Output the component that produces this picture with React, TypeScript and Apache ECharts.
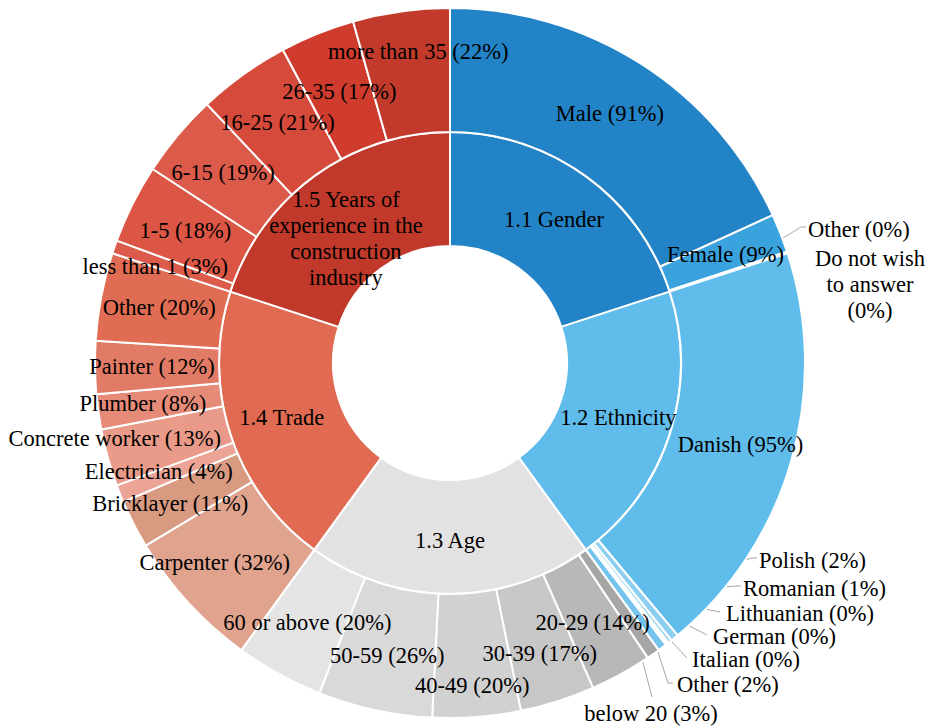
import React, { useEffect, useRef } from "react";
import * as echarts from "echarts";

// ---------- data ----------
const groups = [
  "1.1 Gender",
  "1.2 Ethnicity",
  "1.3 Age",
  "1.4 Trade",
  "1.5 Years of\nexperience in the\nconstruction\nindustry",
];

const genderNames = ["Male", "Female", "Other", "Do not wish to answer"];
const genderValues = [90.8, 8.8, 0.2, 0.2];

const ethnicityNames = ["Danish", "Polish", "Romanian", "Lithuanian", "German", "Italian", "Other"];
const ethnicityValues = [94.6, 1.8, 0.9, 0.3, 0.2, 0.2, 2.0];

const ageNames = ["below 20", "20-29", "30-39", "40-49", "50-59", "60 or above"];
const ageValues = [3, 14, 17, 20, 26, 20];

const tradeNames = ["Carpenter", "Bricklayer", "Electrician", "Concrete worker", "Plumber", "Painter", "Other"];
const tradeValues = [32, 11, 4, 13, 8, 12, 20];

const yearsNames = ["less than 1", "1-5", "6-15", "16-25", "26-35", "more than 35"];
const yearsValues = [3, 18, 19, 21, 17, 22];

// ---------- styles ----------
const groupColors = ["#2283c6", "#60bceb", "#e2e2e2", "#e06b52", "#c0392b"];
const genderColors = ["#2283c6", "#3aa2dc", "#4fb0e4", "#5ab6e8"];
const ethnicityColors = ["#60bceb", "#8dcff0", "#a6daf3", "#7cc6ee", "#9ad4f2", "#b4e0f5", "#74c3ed"];
const ageColors = ["#a6a6a6", "#b8b8b8", "#c7c7c7", "#d1d1d1", "#d9d9d9", "#e4e4e4"];
const tradeColors = ["#e0a48e", "#d89a80", "#eba496", "#e99a88", "#e68b78", "#e27b65", "#df6c53"];
const yearsColors = ["#dd5b4a", "#dc5646", "#db5a4a", "#d54a3b", "#cf3c2d", "#c23a2b"];

const CX = 450;
const CY = 363;
const R_HOLE = 117;
const R_MID = 231;
const R_OUT = 355;
const FONT = "Liberation Serif";
const FONT_SIZE = 22.5;

// inside-label nudges for the outer ring, keyed "group-index"
const insideNudge: Record<string, [number, number]> = {
  "1-0": [6, 0],
  "2-2": [0, 8],
  "2-3": [0, 27],
  "2-4": [0, 3],
  "3-0": [-17, 0],
  "3-1": [-16, 6],
  "3-2": [-16, 0],
  "3-3": [-50, -4],
  "3-4": [-14, 0],
  "3-5": [-2, 0],
  "4-0": [-15, 0],
  "4-4": [0, 3],
  "4-5": [9, -18],
};

// outside labels with leader lines, keyed "group-index"
type OutCfg = {
  x: number;
  y: number;
  align: "left" | "center" | "right";
  r: number;
  elbow: [number, number];
  end: [number, number];
  text?: string;
  lh?: number;
};
const outsideLabels: Record<string, OutCfg> = {
  "0-2": { x: 808, y: 229, align: "left", r: 293, elbow: [801, 227], end: [806, 227], lh: 20 },
  "0-3": {
    x: 870, y: 284, align: "center", r: 293, elbow: [797, 282], end: [797, 282],
    text: "Do not wish\nto answer\n(0%)", lh: 26,
  },
  "1-1": { x: 759, y: 560, align: "left", r: 293, elbow: [752, 558], end: [757, 558], lh: 20 },
  "1-2": { x: 743, y: 588, align: "left", r: 293, elbow: [737, 586], end: [741, 586], lh: 20 },
  "1-3": { x: 726, y: 613, align: "left", r: 293, elbow: [720, 612], end: [720, 612], lh: 20 },
  "1-4": { x: 713, y: 636, align: "left", r: 293, elbow: [707, 635], end: [707, 635], lh: 20 },
  "1-5": { x: 692, y: 659, align: "left", r: 293, elbow: [687, 658], end: [687, 658], lh: 20 },
  "1-6": { x: 677, y: 684, align: "left", r: 338, elbow: [668, 683], end: [673, 683], lh: 20 },
  "2-0": { x: 651, y: 713, align: "center", r: 320, elbow: [652, 697], end: [652, 697], lh: 20 },
};

export default function App() {
  const ref = useRef<HTMLDivElement>(null);

  useEffect(() => {
    if (!ref.current) return;
    const chart = echarts.init(ref.current, undefined, { renderer: "svg" });

    const children = [
      { names: genderNames, values: genderValues, colors: genderColors },
      { names: ethnicityNames, values: ethnicityValues, colors: ethnicityColors },
      { names: ageNames, values: ageValues, colors: ageColors },
      { names: tradeNames, values: tradeValues, colors: tradeColors },
      { names: yearsNames, values: yearsValues, colors: yearsColors },
    ];

    const outerData: any[] = [];
    const outerCfg: any[] = [];
    children.forEach((g, gi) => {
      const total = g.values.reduce((a, b) => a + b, 0);
      g.values.forEach((v, i) => {
        const key = `${gi}-${i}`;
        const o = outsideLabels[key];
        const text = o && o.text ? o.text : `${g.names[i]} (${Math.round(v)}%)`;
        outerData.push({
          name: g.names[i],
          value: v / total,
          itemStyle: { color: g.colors[i] },
          label: {
            position: o ? "outside" : "inside",
            formatter: text,
            ...(o && o.lh ? { lineHeight: o.lh } : {}),
          },
          labelLine: { show: !!o },
        });
        outerCfg.push(o ? { type: "out", ...o } : { type: "in", d: insideNudge[key] || [0, 0] });
      });
    });

    const innerData = groups.map((name, i) => ({
      name,
      value: 1,
      itemStyle: { color: groupColors[i] },
    }));
    const innerNudge: [number, number][] = [[0, 0], [0, 0], [0, 0], [0, 0], [0, 19]];

    const labelBase = {
      show: true,
      color: "#000",
      fontFamily: FONT,
      fontSize: FONT_SIZE,
      lineHeight: 26,
      textBorderWidth: 0,
      rotate: 0,
    };

    chart.setOption({
      animation: false,
      backgroundColor: "#fff",
      textStyle: { fontFamily: FONT },
      series: [
        {
          type: "pie",
          silent: true,
          center: [CX, CY],
          radius: [R_HOLE, R_MID],
          startAngle: 90,
          clockwise: true,
          avoidLabelOverlap: false,
          itemStyle: { borderColor: "#fff", borderWidth: 2 },
          label: { ...labelBase, position: "inside", formatter: "{b}" },
          labelLine: { show: false },
          emphasis: { disabled: true },
          labelLayout: (p: any) => ({ dx: innerNudge[p.dataIndex][0], dy: innerNudge[p.dataIndex][1] }),
          data: innerData,
        },
        {
          type: "pie",
          silent: true,
          center: [CX, CY],
          radius: [R_MID, R_OUT],
          startAngle: 90,
          clockwise: true,
          avoidLabelOverlap: false,
          itemStyle: { borderColor: "#fff", borderWidth: 2 },
          label: { ...labelBase },
          labelLine: {
            show: false,
            length: 10,
            length2: 10,
            lineStyle: { color: "#a6a6a6", width: 1 },
          },
          emphasis: { disabled: true },
          labelLayout: (p: any) => {
            const cfg = outerCfg[p.dataIndex];
            if (!cfg) return {};
            if (cfg.type === "in") return { dx: cfg.d[0], dy: cfg.d[1] };
            const pts = p.labelLinePoints;
            let start: number[] = cfg.elbow;
            if (pts && pts[0]) {
              const dx = pts[0][0] - CX;
              const dy = pts[0][1] - CY;
              const len = Math.hypot(dx, dy) || 1;
              start = [CX + (dx / len) * cfg.r, CY + (dy / len) * cfg.r];
            }
            return {
              x: cfg.x,
              y: cfg.y,
              align: cfg.align,
              verticalAlign: "middle",
              labelLinePoints: [start, cfg.elbow, cfg.end],
            };
          },
          data: outerData,
        },
      ],
    });

    return () => chart.dispose();
  }, []);

  return (
    <div
      ref={ref}
      style={{ position: "fixed", left: 0, top: 0, width: 927, height: 728, background: "#fff" }}
    />
  );
}
